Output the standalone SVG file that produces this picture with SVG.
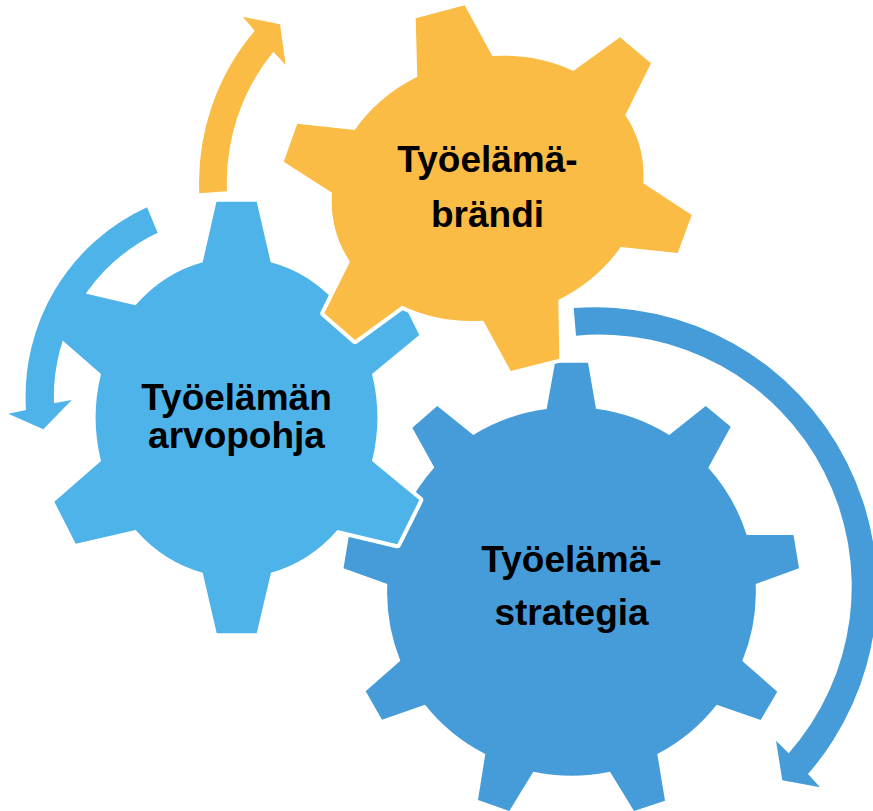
<svg xmlns="http://www.w3.org/2000/svg" width="873" height="811" viewBox="0 0 873 811">
<style>
.gear{stroke:#fff;stroke-width:8;stroke-linejoin:round;paint-order:stroke}
.y{fill:#FBBC45}.l{fill:#4DB3E8}.d{fill:#459CD8}
text{font-family:"Liberation Sans",Arial,sans-serif;font-weight:700;font-size:37px;fill:#000;text-anchor:middle}
</style>
<rect width="873" height="811" fill="#fff"/>
<g id="gear-strategia">
<path class="gear d" d="M555 362.7L588 362.7L596 408.7A184 184 0 0 1 669.3 435L705.7 406L730.7 426.7L708.3 467.7A184 184 0 0 1 746.7 535L793.5 535L799 568.3L755.7 584A184 184 0 0 1 742.3 661L777.3 691.7L760.7 720L716.7 704.7A184 184 0 0 1 657.3 754L665 800.7L634 811L610 771.7A184 184 0 0 1 533.3 771.7L509.3 811L478 800L485.3 754A184 184 0 0 1 425 704.7L382 719.7L365.7 691.3L400.3 660.7A184 184 0 0 1 387.3 584L343.5 568.3L349 535L396 535A184 184 0 0 1 434.3 467.5L412.3 427.7L437.3 406L473.3 435A184 184 0 0 1 546.7 409Z"/>
<text x="571.5" y="571.7">Työelämä-</text>
<text x="571.5" y="625">strategia</text>
</g>
<g id="gear-arvopohja">
<path class="gear l" d="M216.5 201.7L256.7 201.7L270.7 262.3A141 160 0 0 1 338.3 305L397.3 290.7L419.3 335L372 374A141 160 0 0 1 372 461L419.3 500L397.3 544.3L337.5 530A141 160 0 0 1 271 572.7L256.7 633.3L216.7 633.3L202.7 572.7A141 160 0 0 1 135.7 530L75.7 543.7L54.3 501.7L101 461A141 160 0 0 1 101 374L54.3 333.3L75.7 291.3L135.5 305.3A141 160 0 0 1 202.7 262.3Z"/>
<text x="236.5" y="410">Työelämän</text>
<text x="236.5" y="448">arvopohja</text>
</g>
<g id="gear-brandi">
<path class="gear y" d="M415.7 18.3L464.7 5.3L492.3 56A158 131 -15 0 1 573.3 71L620 37.3L651 63.3L625.3 115A158 131 -15 0 1 643.3 183.3L691.7 215L677.7 253L620.7 247A158 131 -15 0 1 558.3 300L559.3 358.7L510.7 371L483.3 320.7A158 131 -15 0 1 402 305.7L355 340L324.3 313.3L350 261.7A158 131 -15 0 1 332 192.7L283.7 161.7L297.3 123.7L354.7 130A158 131 -15 0 1 417.3 76.7Z"/>
<text x="487.5" y="172.3">Työelämä-</text>
<text x="487.5" y="226.7">brändi</text>
</g>
<g id="connectors">
<path class="y" d="M199.3 193.3A235 235 0 0 1 254.7 30.7L242.7 16.7L280 24.3L285.7 65L273.3 51.7A207 207 0 0 0 227 191.3Z"/>
<path class="l" d="M147 207.3A208 208 0 0 0 26 410L8.3 413.7L43.3 429.3L71.7 400L54 403.3A181 181 0 0 1 157.7 232.7Z"/>
<path class="d" d="M573.7 308A282 282 0 0 1 808 774L820 787.3L782.3 780.3L776 740.7L788.7 753.3A252 252 0 0 0 576 335.7Z"/>
</g>
</svg>
